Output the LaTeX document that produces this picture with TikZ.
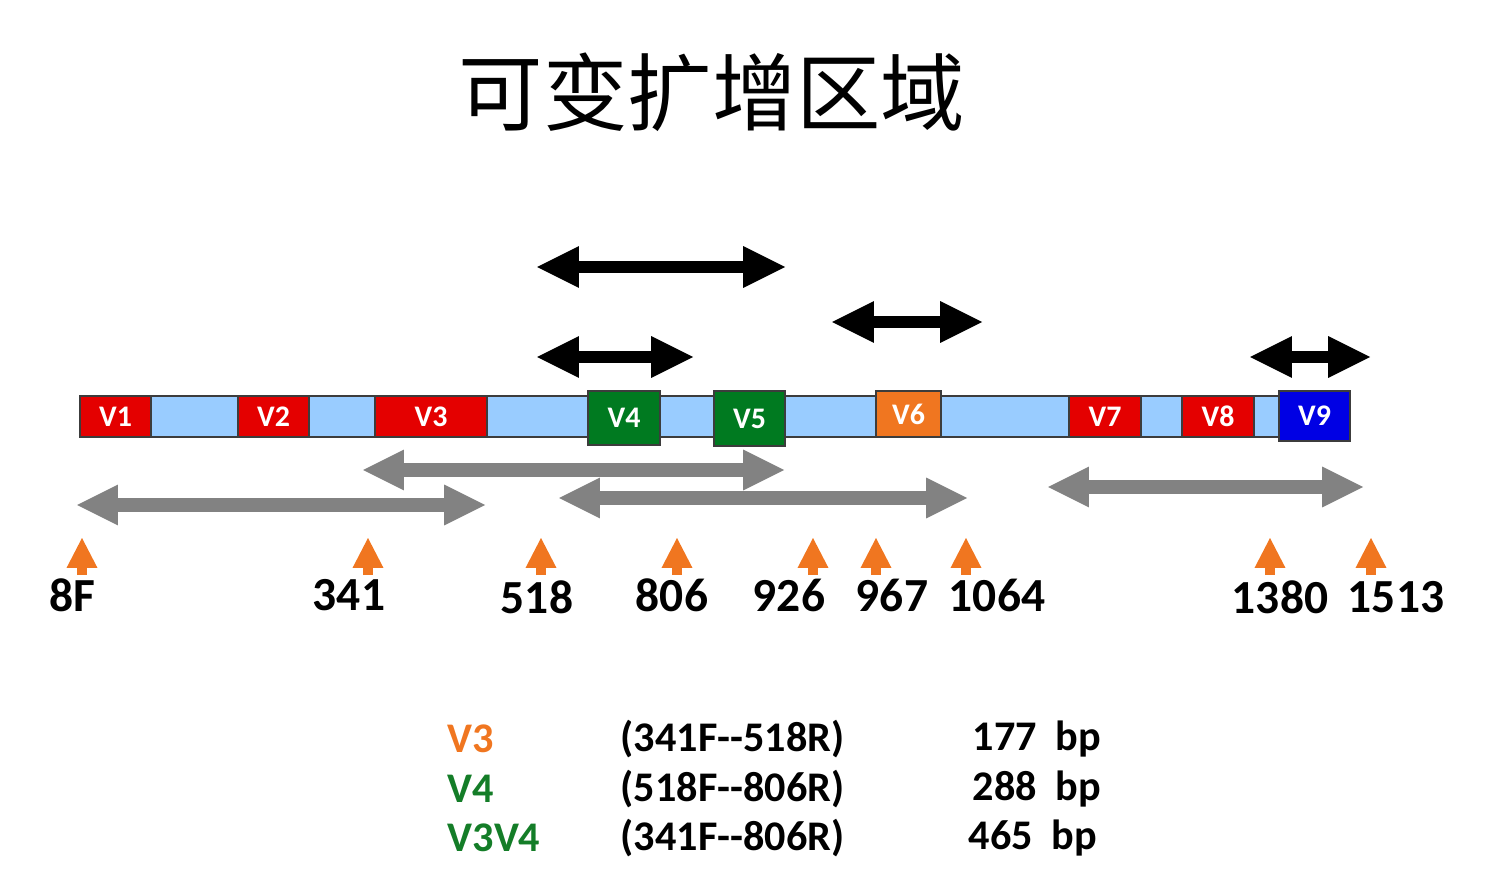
\documentclass[tikz,border=0pt]{standalone}
\usepackage{fontspec}
\setmainfont{Carlito}
\newfontfamily\cjk{Noto Sans CJK SC}
\usepackage{tikz}
\usetikzlibrary{arrows.meta}
\definecolor{vred}{RGB}{228,0,0}
\definecolor{vgreen}{RGB}{0,122,32}
\definecolor{vorange}{RGB}{240,118,32}
\definecolor{vblue}{RGB}{0,0,228}
\definecolor{vlight}{RGB}{153,204,255}
\definecolor{boxline}{RGB}{60,60,60}
\definecolor{pgray}{RGB}{130,130,130}
\definecolor{lgreen}{RGB}{20,125,40}

\begin{document}
\begin{tikzpicture}[x=0.01cm,y=-0.01cm,
    vbox/.style={draw=boxline,line width=0.6pt},
    vlab/.style={text=white,font=\bfseries\fontsize{8.5}{9}\selectfont},
    amp/.style={line width=3.4pt,
      {Triangle[length=11.9pt,width=11.9pt,line width=0pt]}-{Triangle[length=11.9pt,width=11.9pt,line width=0pt]}},
    prim/.style={draw=pgray,line width=4.2pt,
      {Triangle[length=11.6pt,width=11.6pt,line width=0pt]}-{Triangle[length=11.6pt,width=11.6pt,line width=0pt]}},
    site/.style={draw=vorange,line width=3.1pt,-{Triangle[length=8.5pt,width=8.8pt,line width=0pt]}},
    poslab/.style={font=\bfseries\fontsize{13.5}{14}\selectfont},
    leg/.style={anchor=west,inner sep=0pt,font=\bfseries\fontsize{12}{13}\selectfont}]
    \useasboundingbox (0,0) rectangle (1496,888);

    \node (title) at (712,92) {\cjk\fontsize{24}{24}\selectfont 可变扩增区域};

    \draw[vbox,fill=vlight] (80,396) rectangle (1350,437);
    \draw[vbox,fill=vred] (80,396) rectangle (151,437) node[midway,vlab] (v1) {V1};
    \draw[vbox,fill=vred] (238,396) rectangle (309,437) node[midway,vlab] (v2) {V2};
    \draw[vbox,fill=vred] (375,396) rectangle (487,437) node[midway,vlab] (v3) {V3};
    \draw[vbox,fill=vgreen] (588,391) rectangle (660,445) node[midway,vlab] (v4) {V4};
    \draw[vbox,fill=vgreen] (714,391) rectangle (785,446) node[midway,vlab] (v5) {V5};
    \draw[vbox,fill=vorange] (876,391) rectangle (941,437) node[midway,vlab] (v6) {V6};
    \draw[vbox,fill=vred] (1069,396) rectangle (1141,437) node[midway,vlab] (v7) {V7};
    \draw[vbox,fill=vred] (1182,396) rectangle (1254,437) node[midway,vlab] (v8) {V8};
    \draw[vbox,fill=vblue] (1279,391) rectangle (1350,441) node[midway,vlab] (v9) {V9};

    \coordinate (a1l) at (537,267);
    \coordinate (a1r) at (785,267);
    \coordinate (a2l) at (537,357);
    \coordinate (a2r) at (693,357);
    \coordinate (a3l) at (832,322);
    \coordinate (a3r) at (982,322);
    \coordinate (a4l) at (1250,357);
    \coordinate (a4r) at (1370,357);
    \draw[amp] (a1l) -- (a1r);
    \draw[amp] (a2l) -- (a2r);
    \draw[amp] (a3l) -- (a3r);
    \draw[amp] (a4l) -- (a4r);

    \coordinate (g1l) at (363,470);
    \coordinate (g1r) at (784,470);
    \coordinate (g2l) at (77,505);
    \coordinate (g2r) at (485,505);
    \coordinate (g3l) at (559,498);
    \coordinate (g3r) at (967,498);
    \coordinate (g4l) at (1048,487);
    \coordinate (g4r) at (1363,487);
    \draw[prim] (g1l) -- (g1r);
    \draw[prim] (g2l) -- (g2r);
    \draw[prim] (g3l) -- (g3r);
    \draw[prim] (g4l) -- (g4r);

    \node[poslab] (p8) at (72,595) {8F};
    \node[poslab] (p341) at (349,595) {341};
    \node[poslab] (p518) at (537,597) {518};
    \node[poslab] (p806) at (672,595) {806};
    \node[poslab] (p926) at (789,595) {926};
    \node[poslab] (p967) at (892,595) {967};
    \node[poslab] (p1064) at (997,595) {1064};
    \node[poslab] (p1380) at (1280,597) {1380};
    \node[poslab] (p1513) at (1396,597) {1513};

    \draw[site] (82,575) -- (82,538);
    \draw[site] (368,575) -- (368,538);
    \draw[site] (541,575) -- (541,538);
    \draw[site] (677,575) -- (677,538);
    \draw[site] (813,575) -- (813,538);
    \draw[site] (876,575) -- (876,538);
    \draw[site] (966,575) -- (966,538);
    \draw[site] (1270,575) -- (1270,538);
    \draw[site] (1371,575) -- (1371,538);

    \node[leg,text=vorange] (n1) at (447,739) {V3};
    \node[leg,text=lgreen] (n2) at (447,789) {V4};
    \node[leg,text=lgreen] (n3) at (447,838) {V3V4};
    \node[leg] (r1) at (620,739) {(341F-{}-518R)};
    \node[leg] (r2) at (620,789) {(518F-{}-806R)};
    \node[leg] (r3) at (620,838) {(341F-{}-806R)};
    \node[leg] (s1) at (972,739) {177~~bp};
    \node[leg] (s2) at (972,789) {288~~bp};
    \node[leg] (s3) at (968,838) {465~~bp};
  \end{tikzpicture}
\end{document}
